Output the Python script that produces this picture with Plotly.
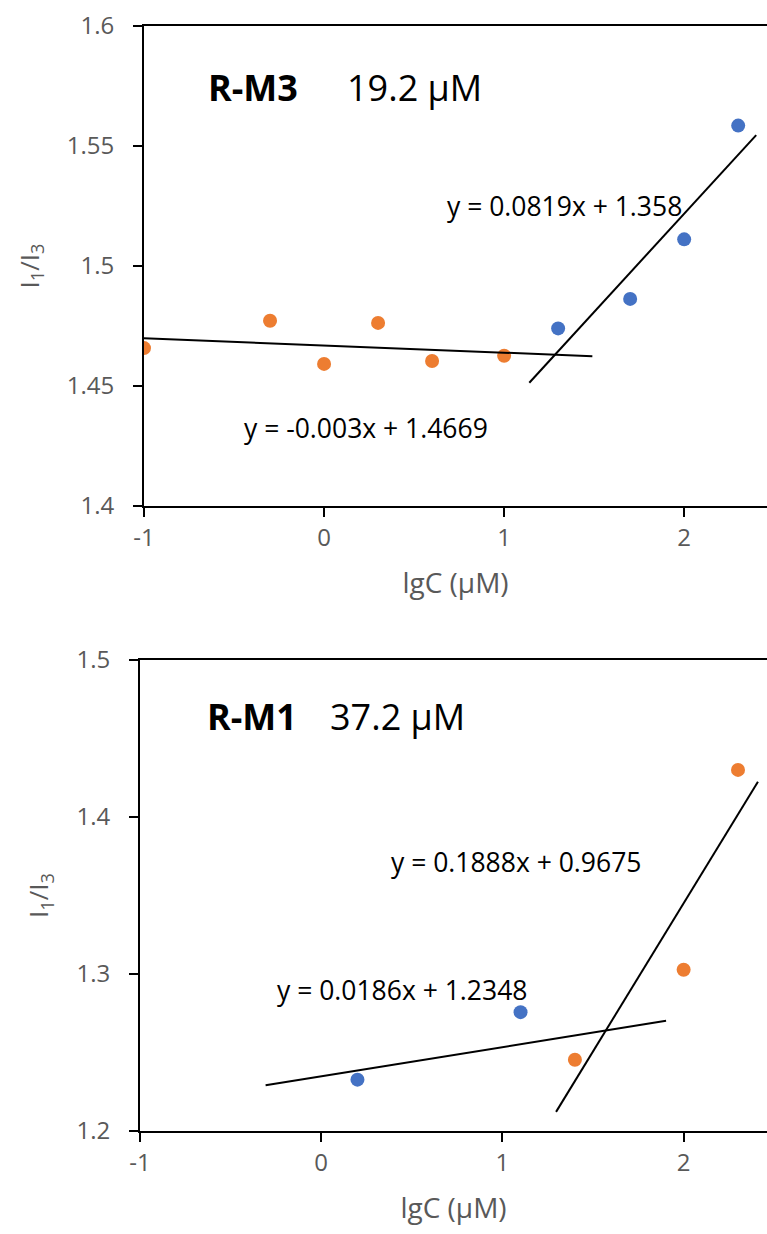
import plotly.graph_objects as go

# ---------------- data ----------------
# Panel 1: R-M3
m3_orange_x = [-1, -0.3, 0, 0.3, 0.6, 1]
m3_orange_y = [1.4658, 1.4772, 1.4592, 1.4763, 1.4604, 1.4626]
m3_blue_x = [1.3, 1.7, 2, 2.3]
m3_blue_y = [1.4740, 1.4863, 1.5111, 1.5585]
m3_fit_orange = [-0.003, 1.4669]   # slope, intercept
m3_fit_orange_range = [-1, 1.49]
m3_fit_blue = [0.0819, 1.358]
m3_fit_blue_range = [1.14, 2.40]

# Panel 2: R-M1
m1_blue_x = [0.2, 1.1]
m1_blue_y = [1.2327, 1.2757]
m1_orange_x = [1.4, 2, 2.3]
m1_orange_y = [1.2454, 1.3027, 1.4300]
m1_fit_blue = [0.0186, 1.2348]
m1_fit_blue_range = [-0.307, 1.903]
m1_fit_orange = [0.1888, 0.9675]
m1_fit_orange_range = [1.296, 2.41]

x_tickvals = [-1, 0, 1, 2]
x_ticktext = ["-1", "0", "1", "2"]
m3_yticks = [1.4, 1.45, 1.5, 1.55, 1.6]
m1_yticks = [1.2, 1.3, 1.4, 1.5]

ORANGE = "#ED7D31"
BLUE = "#4472C4"
FONT = "Open Sans"
GREY = "#595959"

W, H = 767, 1234


def fit_line(fit, rng):
    xs = list(rng)
    ys = [fit[0] * x + fit[1] for x in xs]
    return xs, ys


fig = go.Figure()

marker = dict(size=14, line=dict(width=0))

# panel 1
fig.add_trace(go.Scatter(x=m3_orange_x, y=m3_orange_y, mode="markers",
                         marker=dict(color=ORANGE, **marker), xaxis="x", yaxis="y"))
fig.add_trace(go.Scatter(x=m3_blue_x, y=m3_blue_y, mode="markers",
                         marker=dict(color=BLUE, **marker), xaxis="x", yaxis="y"))
for fit, rng in [(m3_fit_orange, m3_fit_orange_range), (m3_fit_blue, m3_fit_blue_range)]:
    xs, ys = fit_line(fit, rng)
    fig.add_trace(go.Scatter(x=xs, y=ys, mode="lines", line=dict(color="black", width=2),
                             xaxis="x", yaxis="y"))

# panel 2
fig.add_trace(go.Scatter(x=m1_blue_x, y=m1_blue_y, mode="markers",
                         marker=dict(color=BLUE, **marker), xaxis="x2", yaxis="y2"))
fig.add_trace(go.Scatter(x=m1_orange_x, y=m1_orange_y, mode="markers",
                         marker=dict(color=ORANGE, **marker), xaxis="x2", yaxis="y2"))
for fit, rng in [(m1_fit_blue, m1_fit_blue_range), (m1_fit_orange, m1_fit_orange_range)]:
    xs, ys = fit_line(fit, rng)
    fig.add_trace(go.Scatter(x=xs, y=ys, mode="lines", line=dict(color="black", width=2),
                             xaxis="x2", yaxis="y2"))


def xaxis_cfg(domain, anchor):
    return dict(domain=domain, anchor=anchor, range=[-1, 2.46], tickvals=x_tickvals,
                ticktext=x_ticktext, showline=True, linecolor="black", linewidth=2,
                mirror=True, ticks="outside", ticklen=9, tickwidth=2, tickcolor="black",
                showgrid=False, zeroline=False, ticklabelstandoff=0, automargin=False,
                tickfont=dict(family=FONT, size=24, color=GREY),
                title=dict(text="lgC (μM)", font=dict(family=FONT, size=28, color=GREY),
                           standoff=22))


def yaxis_cfg(domain, anchor, rng, ticks):
    return dict(domain=domain, anchor=anchor, range=rng, tickvals=ticks,
                showline=True, linecolor="black", linewidth=2, mirror=False,
                ticks="outside", ticklen=9, tickwidth=2, tickcolor="black",
                showgrid=False, zeroline=False, ticklabelstandoff=14, automargin=False,
                tickfont=dict(family=FONT, size=24, color=GREY),
                title=dict(text="I<sub>1</sub>/I<sub>3</sub>",
                           font=dict(family=FONT, size=26, color=GREY), standoff=20))


top_dom = [1 - 506 / H, 1 - 26 / H]
bot_dom = [1 - 1131 / H, 1 - 660 / H]

fig.update_layout(
    width=W, height=H, margin=dict(l=0, r=0, t=0, b=0),
    paper_bgcolor="white", plot_bgcolor="white", showlegend=False,
    xaxis=xaxis_cfg([144 / W, 1], "y"),
    yaxis=yaxis_cfg(top_dom, "x", [1.4, 1.6], m3_yticks),
    xaxis2=xaxis_cfg([140 / W, 1], "y2"),
    yaxis2=yaxis_cfg(bot_dom, "x2", [1.2, 1.5], m1_yticks),
)

ann_font = dict(family=FONT, size=26.5, color="black")
big_font = dict(family=FONT, size=36, color="black")
anns = [
    dict(x=-0.655, y=1.5742, xref="x", yref="y", text="<b>R-M3</b>", font=big_font,
         xanchor="left", yanchor="middle", showarrow=False),
    dict(x=0.115, y=1.5742, xref="x", yref="y", text="19.2 μM", font=big_font,
         xanchor="left", yanchor="middle", showarrow=False),
    dict(x=0.233, y=1.4325, xref="x", yref="y", text="y = -0.003x + 1.4669", font=ann_font,
         xanchor="center", yanchor="middle", showarrow=False),
    dict(x=1.333, y=1.525, xref="x", yref="y", text="y = 0.0819x + 1.358", font=ann_font,
         xanchor="center", yanchor="middle", showarrow=False),
    dict(x=-0.64, y=1.4637, xref="x2", yref="y2", text="<b>R-M1</b>", font=big_font,
         xanchor="left", yanchor="middle", showarrow=False),
    dict(x=0.035, y=1.4637, xref="x2", yref="y2", text="37.2 μM", font=big_font,
         xanchor="left", yanchor="middle", showarrow=False),
    dict(x=1.073, y=1.3714, xref="x2", yref="y2", text="y = 0.1888x + 0.9675", font=ann_font,
         xanchor="center", yanchor="middle", showarrow=False),
    dict(x=0.444, y=1.29, xref="x2", yref="y2", text="y = 0.0186x + 1.2348", font=ann_font,
         xanchor="center", yanchor="middle", showarrow=False),
]
fig.update_layout(annotations=anns)

fig.write_html("out.html")
